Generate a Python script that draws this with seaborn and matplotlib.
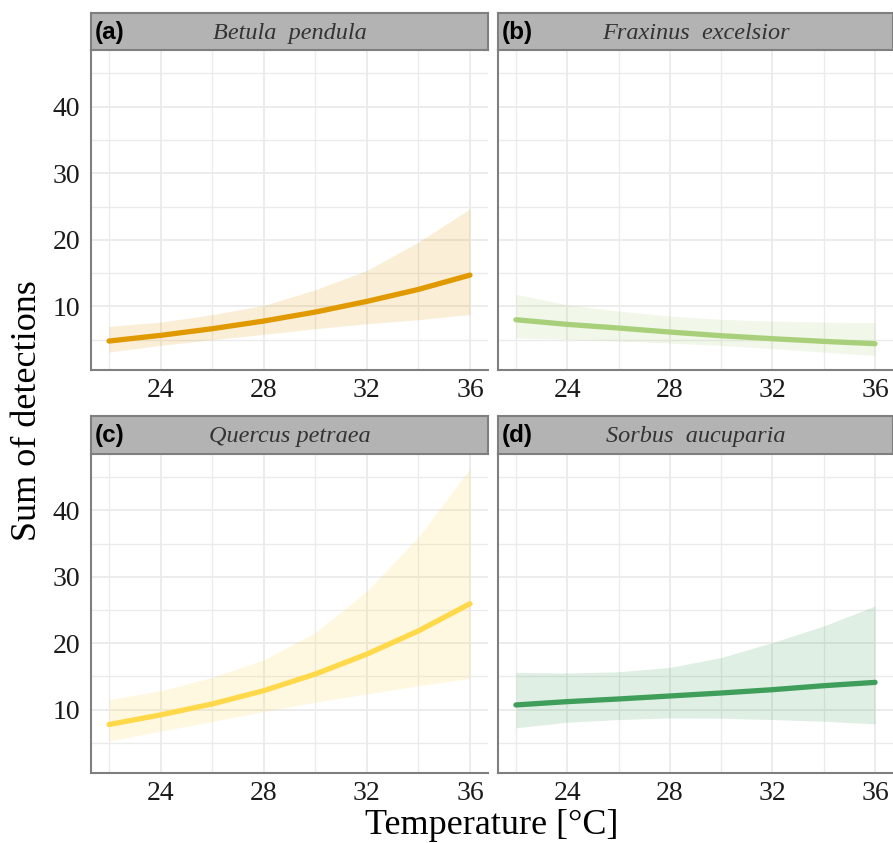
import numpy as np
import pandas as pd
import matplotlib
matplotlib.use("Agg")
import matplotlib.pyplot as plt
from matplotlib.ticker import MultipleLocator
import seaborn as sns

sns.set_theme(style="white")
plt.rcParams['font.family'] = ['Liberation Serif', 'DejaVu Serif']

# ---- data ----
temperature = [22, 24, 26, 28, 30, 32, 34, 36]

species = ["Betula  pendula", "Fraxinus  excelsior", "Quercus petraea", "Sorbus  aucuparia"]
panel_tags = ["(a)", "(b)", "(c)", "(d)"]
colors = ["#E09A00", "#A8D07A", "#FFD94A", "#3E9E5A"]

betula_fit = [4.8, 5.65, 6.65, 7.8, 9.15, 10.75, 12.55, 14.7]
betula_lo = [3.15, 4.15, 5.0, 5.8, 6.65, 7.4, 8.0, 8.8]
betula_hi = [7.0, 7.65, 8.75, 10.15, 12.5, 15.4, 19.65, 24.65]

fraxinus_fit = [8.0, 7.3, 6.75, 6.15, 5.6, 5.15, 4.75, 4.4]
fraxinus_lo = [5.3, 5.05, 4.8, 4.5, 4.15, 3.65, 3.15, 2.65]
fraxinus_hi = [11.8, 10.25, 9.3, 8.55, 8.05, 7.8, 7.65, 7.55]

quercus_fit = [7.75, 9.2, 10.85, 12.85, 15.35, 18.35, 21.85, 25.95]
quercus_lo = [5.25, 6.75, 8.2, 9.7, 11.1, 12.35, 13.6, 14.7]
quercus_hi = [11.5, 12.85, 14.85, 17.5, 21.6, 27.85, 36.0, 46.3]

sorbus_fit = [10.7, 11.2, 11.6, 12.05, 12.5, 13.0, 13.6, 14.1]
sorbus_lo = [7.25, 8.1, 8.5, 8.75, 8.7, 8.5, 8.25, 7.85]
sorbus_hi = [15.6, 15.5, 15.7, 16.35, 17.85, 20.1, 22.6, 25.6]

x_ticks = [24, 28, 32, 36]
y_ticks = [10, 20, 30, 40]

fits = [betula_fit, fraxinus_fit, quercus_fit, sorbus_fit]
los = [betula_lo, fraxinus_lo, quercus_lo, sorbus_lo]
his = [betula_hi, fraxinus_hi, quercus_hi, sorbus_hi]

rows = []
for sp, f, lo, hi in zip(species, fits, los, his):
    for t, a, b, c in zip(temperature, f, lo, hi):
        rows.append(dict(species=sp, temperature=t, fit=a, lo=b, hi=c))
df = pd.DataFrame(rows)

# ---- layout ----
W, H = 893, 843
fig = plt.figure(figsize=(W / 100, H / 100), dpi=100)

def fx(px):
    return px / W

def fy(py):
    return 1 - py / H

col_x = [(91, 488), (498, 893)]
row_y = [((13, 50), (50, 370)), ((416, 454), (454, 773))]

axis_col = "#7F7F7F"
grid_col = "#EBEBEB"

for i, sp in enumerate(species):
    r, c = divmod(i, 2)
    x0, x1 = col_x[c]
    (s0, s1), (p0, p1) = row_y[r]
    ax = fig.add_axes([fx(x0), fy(p1), fx(x1) - fx(x0), fy(p0) - fy(p1)])
    sub = df[df.species == sp]
    ax.fill_between(sub.temperature, sub.lo, sub.hi, color=colors[i], alpha=0.16,
                    linewidth=0, zorder=2)
    sns.lineplot(data=sub, x="temperature", y="fit", ax=ax, color=colors[i],
                 linewidth=3.8, zorder=3)
    ax.set_xlim(21.3, 36.7)
    ax.set_ylim(0.45, 48.5)
    ax.set_xticks(x_ticks)
    ax.xaxis.set_minor_locator(MultipleLocator(2))
    ax.set_yticks(y_ticks)
    ax.yaxis.set_minor_locator(MultipleLocator(5))
    ax.grid(True, which="major", color=grid_col, linewidth=1.3, zorder=0)
    ax.grid(True, which="minor", color=grid_col, linewidth=1.0, zorder=0)
    ax.set_axisbelow(True)
    for sname in ["top", "right"]:
        ax.spines[sname].set_visible(False)
    for sname in ["left", "bottom"]:
        ax.spines[sname].set_color(axis_col)
        ax.spines[sname].set_linewidth(1.5)
    ax.tick_params(axis="both", which="both", length=0, labelsize=20,
                   colors="#1a1a1a")
    ax.tick_params(axis="y", pad=8)
    ax.tick_params(axis="x", pad=6)
    if c == 1:
        ax.set_yticklabels([])
    ax.set_xlabel("")
    ax.set_ylabel("")
    ax.set_facecolor("white")

    # strip
    sax = fig.add_axes([fx(x0), fy(s1), fx(x1) - fx(x0), fy(s0) - fy(s1)])
    sax.set_facecolor("#B3B3B3")
    sax.set_xticks([])
    sax.set_yticks([])
    for sname in sax.spines:
        sax.spines[sname].set_color(axis_col)
        sax.spines[sname].set_linewidth(1.5)
    sax.text(0.01, 0.48, panel_tags[i], transform=sax.transAxes, ha="left",
             va="center", fontsize=17.5, fontweight="bold",
             family=["Liberation Sans", "DejaVu Sans"], color="black")
    sax.text(0.5, 0.45, sp, transform=sax.transAxes, ha="center", va="center",
             fontsize=17.5, style="italic", color="#333333")

fig.text(fx(492), fy(826), "Temperature [°C]", ha="center", va="center",
         fontsize=26, color="black")
fig.text(fx(28), fy(411), "Sum of detections", ha="center", va="center",
         rotation=90, fontsize=26, color="black")

fig.savefig("out.png", dpi=100, facecolor="white")
